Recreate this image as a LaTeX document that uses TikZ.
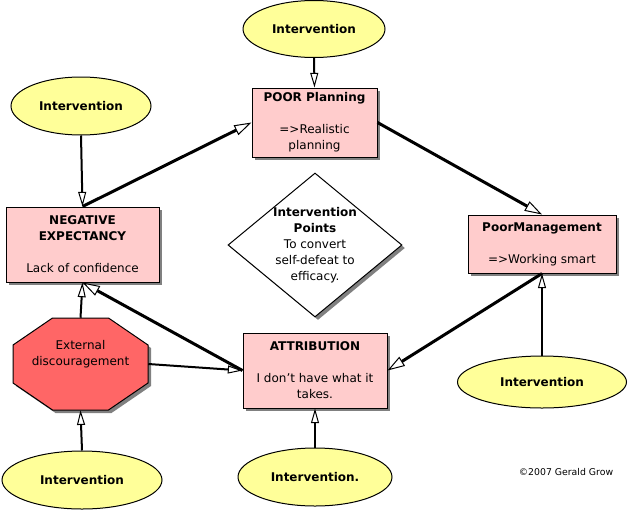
\documentclass[tikz,border=0pt]{standalone}
\usepackage{fontspec}
\setmainfont{DejaVu Sans}
\usetikzlibrary{arrows.meta,shapes.geometric,shadows}
\definecolor{BoxClr}{rgb}{1,0.8,0.8}
\definecolor{IvClr}{rgb}{1,1,0.6}
\definecolor{StopClr}{rgb}{1,0.4,0.4}
\definecolor{ShadowClr}{rgb}{0.5,0.5,0.5}

\begin{document}
\begin{tikzpicture}[x=0.75pt,y=-0.75pt,font=\fontsize{9}{12}\selectfont,
  shadowed/.style={drop shadow={shadow xshift=2.25pt,shadow yshift=-2.25pt,fill=ShadowClr,opacity=1}},
  cause/.style={draw,line width=0.75pt,fill=BoxClr,align=center,inner sep=0pt,shadowed},
  iv/.style={ellipse,draw,line width=0.75pt,fill=IvClr,inner sep=0pt,font=\fontsize{9}{12}\selectfont\bfseries},
  thickarr/.style={line width=2.25pt,-{Triangle[fill=white,length=13pt,width=8pt,line width=0.75pt]}},
  thinarr/.style={line width=1.5pt,-{Triangle[fill=white,length=11pt,width=6pt,line width=0.75pt]}}]
\useasboundingbox (0,0) rectangle (630,510);

\node[cause,minimum width=93.75pt,minimum height=51.75pt] (poor) at (314.5,122.5) {\textbf{POOR Planning}\\[12pt]=>Realistic\\planning};
\node[cause,minimum width=114.75pt,minimum height=56.25pt] (neg) at (82.5,244.5) {\textbf{NEGATIVE}\\\textbf{EXPECTANCY}\\[12pt]Lack of confidence};
\node[cause,minimum width=111pt,minimum height=43.5pt] (mgmt) at (542,244) {\textbf{PoorManagement}\\[12pt]=>Working smart};
\node[cause,minimum width=108pt,minimum height=56.25pt] (attr) at (315,370.5) {\textbf{ATTRIBUTION}\\[12pt]I don{\char39}t have what it\\takes.};

\node[diamond,draw,line width=0.75pt,fill=white,shadowed,minimum width=130.5pt,minimum height=108pt,inner sep=0pt,
  label={[align=center]center:\textbf{Intervention}\\\textbf{Points}\\To convert\\self-defeat to\\efficacy.}] (pts) at (315,245) {};

\coordinate (stopc) at (80.5,364);
\filldraw[line width=0.75pt,fill=StopClr,shadowed] ([shift={(-28,-46)}]stopc) -- ([shift={(28,-46)}]stopc) -- ([shift={(67.5,-19)}]stopc)
  -- ([shift={(67.5,19)}]stopc) -- ([shift={(28,46)}]stopc) -- ([shift={(-28,46)}]stopc) -- ([shift={(-67.5,19)}]stopc)
  -- ([shift={(-67.5,-19)}]stopc) -- cycle;
\node[minimum width=101.25pt,minimum height=69pt,inner sep=0pt,align=center] (stop) at (stopc) {External\\discouragement\\[4pt]};

\node[iv,minimum width=106.5pt,minimum height=42.75pt] (ivTop) at (314,29) {Intervention};
\node[iv,minimum width=105pt,minimum height=43.5pt] (ivLeft) at (81,106) {Intervention};
\node[iv,minimum width=120pt,minimum height=43.5pt] (ivStop) at (82,480) {Intervention};
\node[iv,minimum width=115.5pt,minimum height=43.5pt] (ivAttr) at (315,477) {Intervention.};
\node[iv,minimum width=126.75pt,minimum height=39pt] (ivMgmt) at (542,382) {Intervention};

\node[font=\fontsize{7}{8}\selectfont] (copy) at (566,472) {©2007 Gerald Grow};

\draw[thickarr] (neg.north) -- (poor.west);
\draw[thickarr] (poor.east) -- (mgmt.north);
\draw[thickarr] (mgmt.south) -- (attr.east);
\draw[thickarr] (attr.west) -- (neg.south);
\draw[thinarr] (stop.east) -- (attr.west);
\draw[thinarr] (stop.north) -- (neg.south);

\draw[thinarr] (ivTop.south) -- (poor.north);
\draw[thinarr] (ivLeft.south) -- (neg.north);
\draw[thinarr] (ivStop.north) -- (stop.south);
\draw[thinarr] (ivAttr.north) -- (attr.south);
\draw[thinarr] (ivMgmt.north) -- (mgmt.south);

\end{tikzpicture}
\end{document}
